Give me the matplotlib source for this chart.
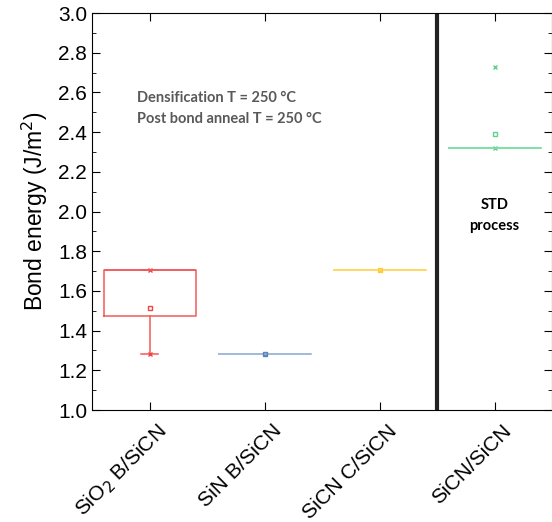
import numpy as np
import matplotlib.pyplot as plt
from matplotlib.transforms import ScaledTranslation, blended_transform_factory

plt.rcParams['font.family'] = ['Liberation Sans', 'DejaVu Sans']

labels = ['SiO$_2$ B/SiCN', 'SiN B/SiCN', 'SiCN C/SiCN', 'SiCN/SiCN']
q1 = [1.475, 1.28, 1.705, 2.32]
q3 = [1.705, 1.28, 1.705, 2.32]
med = [1.705, 1.28, 1.705, 2.32]
mean = [1.515, 1.28, 1.705, 2.39]
whislo = [1.28, 1.28, 1.705, 2.32]
whishi = [1.705, 1.28, 1.705, 2.32]
vmin = [1.28, 1.28, 1.705, 2.32]
vmax = [1.705, 1.28, 1.705, 2.73]
colors = ['#f25a5a', '#a3bbd8', '#ffd966', '#80e0a8']
mcolors = ['#f04545', '#5b84b8', '#ffcc40', '#60d090']

fig = plt.figure(figsize=(5.52, 5.22), dpi=100)
ax = fig.add_axes([92/552, 112/522, 460/552, 397/522])

for i in range(4):
    st = [dict(q1=q1[i], q3=q3[i], med=med[i], mean=mean[i],
               whislo=whislo[i], whishi=whishi[i], fliers=[])]
    c = colors[i]
    m = mcolors[i]
    ax.bxp(st, positions=[i+1], widths=0.8, showmeans=True, patch_artist=False,
           boxprops=dict(color=c, lw=1.1),
           medianprops=dict(color=c, lw=1.1),
           whiskerprops=dict(color=c, lw=1.1),
           capprops=dict(color=c, lw=1.1),
           capwidths=0.15,
           meanprops=dict(marker='s', markerfacecolor='none', markeredgecolor=m,
                          markersize=3.5, markeredgewidth=1))
    ax.plot([i+1, i+1], [vmin[i], vmax[i]], ls='none', marker='x', color=m,
            markersize=3.5, mew=1)

ax.axvline(3.5, color='#222222', lw=3)

ax.set_xlim(0.5, 4.5)
ax.set_ylim(1.0, 3.0)
ax.set_xticks([1, 2, 3, 4])
ax.set_xticklabels([])
# rotated category labels, placed by hand below the ticks
trans = blended_transform_factory(ax.transData, ax.transAxes) + \
    ScaledTranslation(14/100, -18/100, fig.dpi_scale_trans)
for i, lab in enumerate(labels):
    ax.text(i+1, 0, lab, transform=trans, rotation=45, ha='right', va='center',
            rotation_mode='anchor', fontsize=15, clip_on=False)
ax.set_yticks(np.arange(1.0, 3.01, 0.2))
ax.set_yticks(np.arange(1.1, 3.0, 0.2), minor=True)
ax.yaxis.set_major_formatter(plt.FormatStrFormatter('%.1f'))
ax.tick_params(axis='y', which='major', direction='in', length=6, labelsize=15, right=True)
ax.tick_params(axis='y', which='minor', direction='in', length=3, right=True)
ax.tick_params(axis='x', direction='in', length=6, top=True)
ax.set_ylabel('Bond energy (J/m$^2$)', fontsize=16.5, labelpad=6)

ax.text(0.89, 2.52, 'Densification T = 250 °C\nPost bond anneal T = 250 °C',
        fontsize=10.5, fontweight='bold', color='#595959', family=['Lato', 'DejaVu Sans'],
        va='center', ha='left', linespacing=1.6)
ax.text(4.0, 1.98, 'STD\nprocess', fontsize=10.5, fontweight='bold', color='black',
        family=['Lato', 'DejaVu Sans'], ha='center', va='center', linespacing=1.6)

fig.savefig('out.png', dpi=100)
